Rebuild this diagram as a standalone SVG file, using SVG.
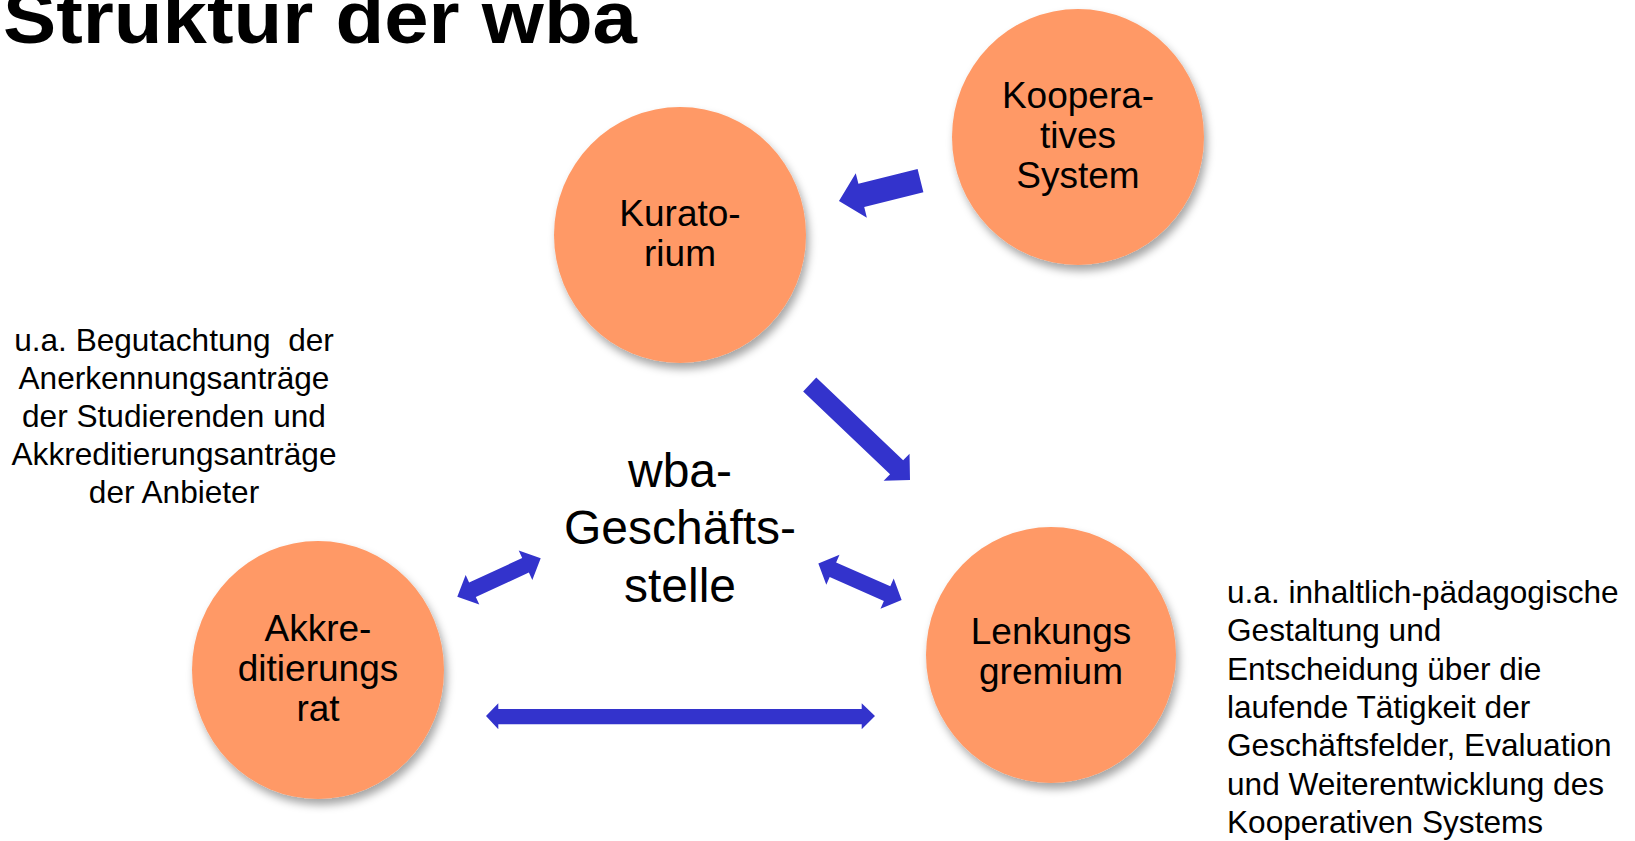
<svg xmlns="http://www.w3.org/2000/svg" width="1635" height="841" viewBox="0 0 1635 841">
  <defs>
    <filter id="shadow" x="-20%" y="-20%" width="140%" height="145%">
      <feDropShadow dx="3" dy="6" stdDeviation="4" flood-color="#000" flood-opacity="0.35"/>
    </filter>
    <style>
      .node { fill: #FF9966; filter: url(#shadow); }
      .lbl { font-family: "Liberation Sans", Arial, sans-serif; font-size: 37px; fill: #000; text-anchor: middle; }
      .big { font-family: "Liberation Sans", Arial, sans-serif; font-size: 48px; fill: #000; text-anchor: middle; }
      .note { font-family: "Liberation Sans", Arial, sans-serif; font-size: 31.6px; fill: #000; }
      .arrow { fill: #3333CC; }
      .title { font-family: "Liberation Sans", Arial, sans-serif; font-size: 74px; font-weight: bold; fill: #000; }
    </style>
  </defs>
  <rect width="1635" height="841" fill="#fff"/>

  <text class="title" x="3" y="43" textLength="634" lengthAdjust="spacingAndGlyphs">Struktur der wba</text>

  <g id="kuratorium">
    <ellipse class="node" cx="680" cy="235" rx="126" ry="128"/>
    <text class="lbl" x="680" y="226">Kurato-</text>
    <text class="lbl" x="680" y="266">rium</text>
  </g>

  <g id="kooperatives-system">
    <ellipse class="node" cx="1078" cy="137" rx="126" ry="128"/>
    <text class="lbl" x="1078" y="108">Koopera-</text>
    <text class="lbl" x="1078" y="148">tives</text>
    <text class="lbl" x="1078" y="188">System</text>
  </g>

  <g id="akkreditierungsrat">
    <ellipse class="node" cx="318" cy="670" rx="126" ry="129"/>
    <text class="lbl" x="318" y="641">Akkre-</text>
    <text class="lbl" x="318" y="681">ditierungs</text>
    <text class="lbl" x="318" y="721">rat</text>
  </g>

  <g id="lenkungsgremium">
    <ellipse class="node" cx="1051" cy="655" rx="125" ry="128"/>
    <text class="lbl" x="1051" y="644">Lenkungs</text>
    <text class="lbl" x="1051" y="684">gremium</text>
  </g>

  <g id="geschaeftsstelle">
    <text class="big" x="680" y="487">wba-</text>
    <text class="big" x="680" y="544">Geschäfts-</text>
    <text class="big" x="680" y="602">stelle</text>
  </g>

  <g id="note-left">
    <text class="note" text-anchor="middle" xml:space="preserve" x="174" y="351">u.a. Begutachtung  der</text>
    <text class="note" text-anchor="middle" x="174" y="389">Anerkennungsanträge</text>
    <text class="note" text-anchor="middle" x="174" y="427">der Studierenden und</text>
    <text class="note" text-anchor="middle" x="174" y="465">Akkreditierungsanträge</text>
    <text class="note" text-anchor="middle" x="174" y="503">der Anbieter</text>
  </g>

  <g id="note-right">
    <text class="note" x="1227" y="603">u.a. inhaltlich-pädagogische</text>
    <text class="note" x="1227" y="641">Gestaltung und</text>
    <text class="note" x="1227" y="680">Entscheidung über die</text>
    <text class="note" x="1227" y="718">laufende Tätigkeit der</text>
    <text class="note" x="1227" y="756">Geschäftsfelder, Evaluation</text>
    <text class="note" x="1227" y="795">und Weiterentwicklung des</text>
    <text class="note" x="1227" y="833">Kooperativen Systems</text>
  </g>

  <g id="connectors">
    <polygon class="arrow" transform="translate(920.5,180.7) rotate(166)" points="0,-12 61,-12 61,-23 84,0 61,23 61,12 0,12"/>
    <polygon class="arrow" transform="translate(809.7,384.5) rotate(43.6)" points="0,-9.5 120,-9.5 120,-18.75 138.5,0 120,18.75 120,9.5 0,9.5"/>
    <polygon class="arrow" transform="translate(499,577.5) rotate(-24.7)" points="-45.9,0 -29.2,-16.3 -29.2,-8 29.2,-8 29.2,-16.3 45.9,0 29.2,16.3 29.2,8 -29.2,8 -29.2,16.3"/>
    <polygon class="arrow" transform="translate(860,581.7) rotate(23.75)" points="-45.5,0 -29.6,-16.4 -29.6,-8 29.6,-8 29.6,-16.4 45.5,0 29.6,16.4 29.6,8 -29.6,8 -29.6,16.4"/>
    <polygon class="arrow" points="486,716 498.3,703.3 498.3,709 861.7,709 861.7,703.3 875,716 861.7,729.3 861.7,724.3 498.3,724.3 498.3,729.3"/>
  </g>
</svg>
